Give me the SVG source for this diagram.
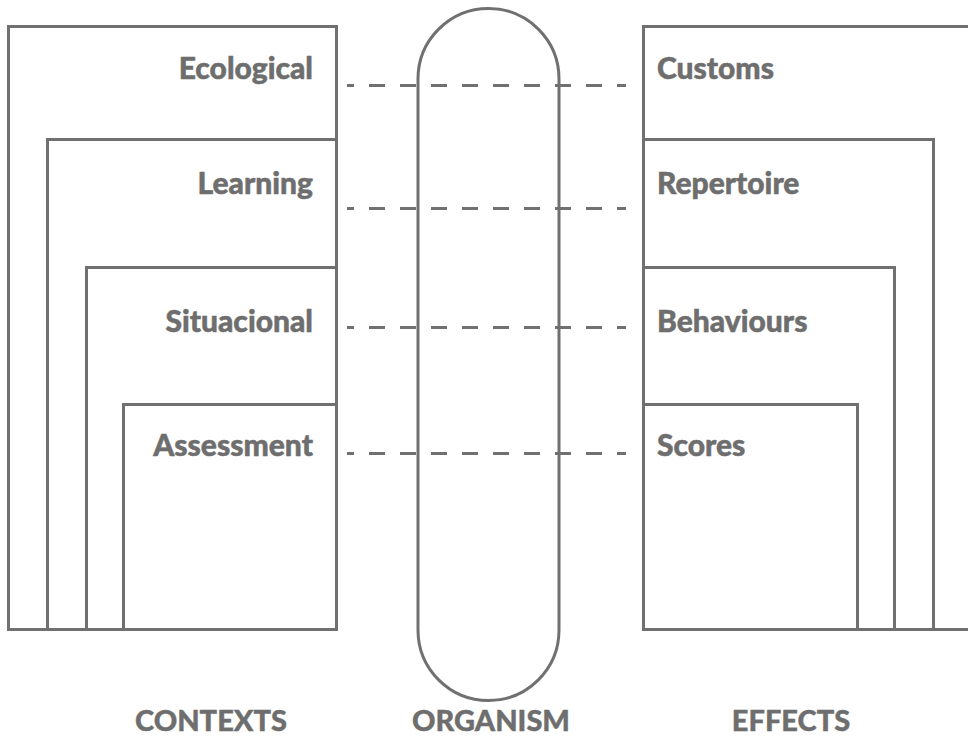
<svg xmlns="http://www.w3.org/2000/svg" width="968" height="736" viewBox="0 0 968 736">
  <style>
    .box { fill: none; stroke: #707070; stroke-width: 3; }
    .lbl { font-family: Lato, "Open Sans", sans-serif; font-weight: 900; font-size: 30px; fill: #6e6e6e; stroke: #6e6e6e; stroke-width: 0.5; }
    .cap { font-family: Lato, "Open Sans", sans-serif; font-weight: 900; font-size: 29px; fill: #6e6e6e; stroke: #6e6e6e; stroke-width: 0.4; text-anchor: middle; }
    .dash { stroke: #707070; stroke-width: 3; stroke-dasharray: 16 15; stroke-dashoffset: 9; fill: none; }
  </style>
  <rect width="968" height="736" fill="#ffffff"/>

  <!-- contexts: nested boxes sharing right and bottom edges -->
  <g id="ecological">
    <rect class="box" x="8.5" y="26.5" width="328" height="603"/>
    <text class="lbl" x="313" y="79" text-anchor="end">Ecological</text>
  </g>
  <g id="learning">
    <rect class="box" x="47.5" y="139.5" width="289" height="490"/>
    <text class="lbl" x="313" y="194" text-anchor="end">Learning</text>
  </g>
  <g id="situacional">
    <rect class="box" x="86.5" y="267.5" width="250" height="362"/>
    <text class="lbl" x="313" y="332" text-anchor="end">Situacional</text>
  </g>
  <g id="assessment">
    <rect class="box" x="123.5" y="404.5" width="213" height="225"/>
    <text class="lbl" x="313" y="456" text-anchor="end">Assessment</text>
  </g>

  <!-- organism capsule -->
  <g id="organism">
    <rect class="box" x="418" y="8.5" width="141" height="692" rx="70.5" ry="70.5"/>
  </g>

  <!-- effects: nested boxes sharing left and bottom edges -->
  <g id="customs">
    <rect class="box" x="643.5" y="26.5" width="340" height="603"/>
    <text class="lbl" x="657" y="79">Customs</text>
  </g>
  <g id="repertoire">
    <rect class="box" x="643.5" y="139.5" width="290" height="490"/>
    <text class="lbl" x="657" y="194">Repertoire</text>
  </g>
  <g id="behaviours">
    <rect class="box" x="643.5" y="267.5" width="251" height="362"/>
    <text class="lbl" x="657" y="332">Behaviours</text>
  </g>
  <g id="scores">
    <rect class="box" x="643.5" y="404.5" width="214" height="225"/>
    <text class="lbl" x="657" y="456">Scores</text>
  </g>

  <!-- dashed links across the organism -->
  <g id="connectors">
    <line class="dash" x1="347" y1="85.5" x2="626" y2="85.5"/>
    <line class="dash" x1="347" y1="208.5" x2="626" y2="208.5"/>
    <line class="dash" x1="347" y1="327.5" x2="626" y2="327.5"/>
    <line class="dash" x1="347" y1="453.5" x2="626" y2="453.5"/>
  </g>

  <!-- column captions -->
  <g id="captions">
    <text class="cap" x="211" y="731">CONTEXTS</text>
    <text class="cap" x="491" y="731">ORGANISM</text>
    <text class="cap" x="791" y="731">EFFECTS</text>
  </g>
</svg>
